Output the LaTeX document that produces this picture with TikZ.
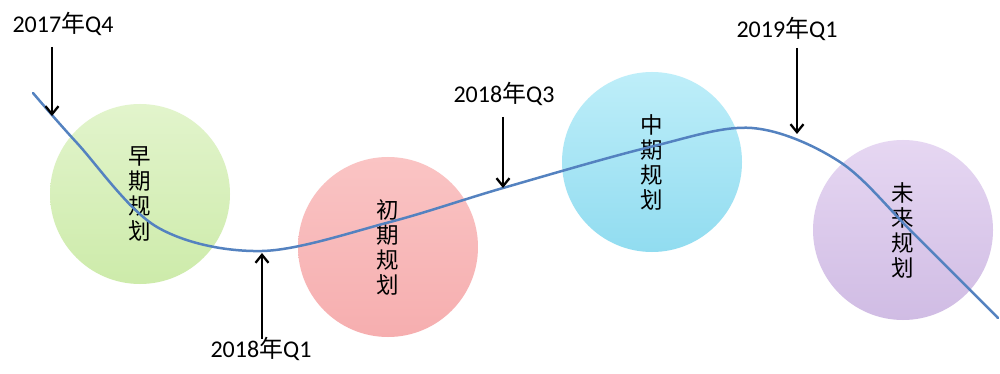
\documentclass[tikz,border=0pt]{standalone}
\usepackage{fontspec}
\setmainfont{Carlito}
\newfontfamily\cjk{Noto Sans CJK SC}
\usetikzlibrary{arrows.meta}
\definecolor{curveblue}{RGB}{84,130,192}
\definecolor{gtop}{RGB}{226,244,204}
\definecolor{gbot}{RGB}{205,235,170}
\definecolor{ptop}{RGB}{250,196,196}
\definecolor{pbot}{RGB}{246,174,175}
\definecolor{ctop}{RGB}{190,238,249}
\definecolor{cbot}{RGB}{145,220,240}
\definecolor{vtop}{RGB}{230,215,242}
\definecolor{vbot}{RGB}{208,188,228}
\tikzset{
  phase/.style={circle, minimum size=180pt, inner sep=0pt, draw=none, align=center,
     font=\cjk\fontsize{22.5}{25}\selectfont},
  datelabel/.style={anchor=base, inner sep=0pt, font=\fontsize{24}{28}\selectfont},
  arr/.style={line width=2.3pt, black, -{Straight Barb[length=8pt,width=13pt]}},
  wave/.style={line width=2.5pt, curveblue, line cap=round}
}
\begin{document}
\begin{tikzpicture}[x=1pt,y=-1pt]
\useasboundingbox[fill=white] (0,0) rectangle (1000,374);
% phases
\node[phase, top color=gtop, bottom color=gbot] (g) at (140,194) {早\\期\\规\\划};
\node[phase, top color=ptop, bottom color=pbot] (p) at (388,247) {初\\期\\规\\划};
\node[phase, top color=ctop, bottom color=cbot] (c) at (652,162) {中\\期\\规\\划};
\node[phase, top color=vtop, bottom color=vbot] (v) at (903,230) {未\\来\\规\\划};
% curve
\draw[wave] plot[smooth, tension=0.55] coordinates {(33,93) (77,143) (157,227) (262,251) (390,222) (503,188) (650,147) (752,128) (840,162) (913,233) (998,318)};
% labels
\node[datelabel] (l1) at (63,33) {2017{\cjk 年}Q4};
\node[datelabel] (l2) at (261,357) {2018{\cjk 年}Q1};
\node[datelabel] (l3) at (504,103) {2018{\cjk 年}Q3};
\node[datelabel] (l4) at (787,38) {2019{\cjk 年}Q1};
% arrow tips on curve
\coordinate (t1) at (52,116);
\coordinate (t2) at (262,253);
\coordinate (t3) at (503,188);
\coordinate (t4) at (797,134);
\coordinate (s1) at (52,47);
\coordinate (s2) at (262,339);
\coordinate (s3) at (503,117);
\coordinate (s4) at (797,48);
\draw[arr] (s1) -- (t1);
\draw[arr] (s2) -- (t2);
\draw[arr] (s3) -- (t3);
\draw[arr] (s4) -- (t4);
\end{tikzpicture}
\end{document}
